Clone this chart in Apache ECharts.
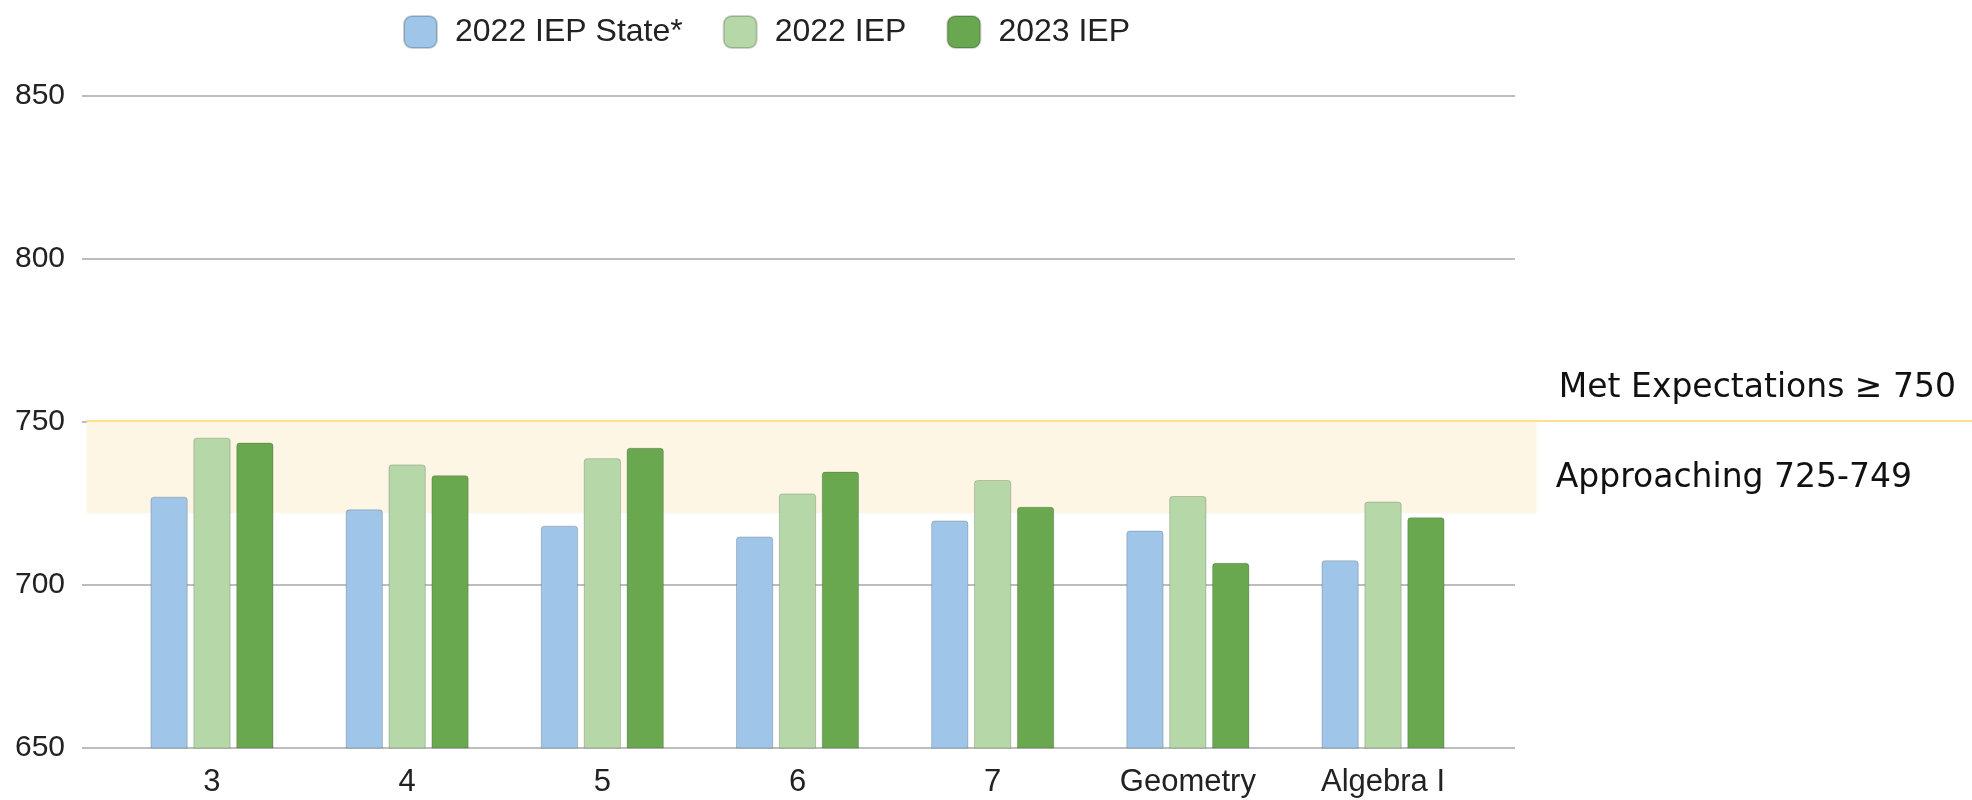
<!DOCTYPE html>
<html>
<head>
<meta charset="utf-8">
<style>
    html, body{ margin: 0; padding: 0; background: #fff;}
    #chart{ width: 1972px; height: 800px;}
</style>
<script src="https://cdn.jsdelivr.net/npm/echarts@6/dist/echarts.min.js"></script>
</head>
<body>
<div id="chart"></div>
<script>
    // data
    var categories = ['3', '4', '5', '6', '7', 'Geometry', 'Algebra I'];
    var seriesNames = ['2022 IEP State*', '2022 IEP', '2023 IEP'];
    var state2022 = [727.1, 723.2, 718.2, 714.9, 719.8, 716.7, 707.6];
    var iep2022 = [745.2, 737.0, 738.9, 728.1, 732.2, 727.3, 725.6];
    var iep2023 = [743.7, 733.7, 742.1, 734.8, 724.0, 706.8, 720.8];

    var yMin = 650, yMax = 850, yStep = 50;
    var metLevel = 750;
    var bandLow = 722;
    var metText = 'Met Expectations \u2265 750';
    var approachText = 'Approaching 725-749';

    var colors = ['#9FC5E8', '#B6D7A8', '#6AA84F'];
    var font = '"Liberation Sans", Arial, sans-serif';
    var noteFont = '"DejaVu Sans", sans-serif';

    var chart = echarts.init(document.getElementById('chart'));

    function hiddenY(i){
        return { gridIndex: i, type: 'value', min: yMin, max: yMax, interval: yStep, show: false };
    }
    function hiddenX(i){
        return { gridIndex: i, type: 'value', min: 0, max: 1, show: false };
    }
    function barSeries(name, data, color){
        return {
            name: name,
            type: 'bar',
            xAxisIndex: 1,
            yAxisIndex: 1,
            data: data,
            barWidth: 37.3,
            barGap: '15%',
            itemStyle: { color: color, borderColor: 'rgba(0,0,0,0.18)', borderWidth: 1, borderRadius: [3, 3, 0, 0] }
        };
    }

    chart.setOption({
        animation: false,
        legend: {
            data: seriesNames,
            left: 398,
            top: 10,
            icon: 'roundRect',
            itemWidth: 33,
            itemHeight: 32,
            itemGap: 40,
            textStyle: { fontSize: 32, color: '#222', fontFamily: font, padding: [0, 0, 0, 13] }
        },
        grid: [
            { left: 82, right: 457, top: 96, bottom: 52 },       // gridlines + y labels
            { left: 114.4, right: 491.4, top: 96, bottom: 52 },  // bars
            { left: 86.7, right: 435.3, top: 96, bottom: 52 },   // approaching band
            { left: 86.7, right: 0, top: 94.5, bottom: 53.5 }    // met line
        ],
        xAxis: [
            hiddenX(0),
            {
                gridIndex: 1,
                type: 'category',
                data: categories,
                axisLine: { show: false },
                axisTick: { show: false },
                axisLabel: { fontSize: 31, color: '#222', fontFamily: font, margin: 19 }
            },
            hiddenX(2),
            hiddenX(3)
        ],
        yAxis: [
            {
                gridIndex: 0,
                type: 'value',
                min: yMin,
                max: yMax,
                interval: yStep,
                axisLine: { show: false },
                axisTick: { show: false },
                axisLabel: { fontSize: 30, color: '#222', fontFamily: font, margin: 17 },
                splitLine: { lineStyle: { color: '#bdbdbd', width: 2 } }
            },
            hiddenY(1),
            hiddenY(2),
            hiddenY(3)
        ],
        series: [
            barSeries(seriesNames[0], state2022, colors[0]),
            barSeries(seriesNames[1], iep2022, colors[1]),
            barSeries(seriesNames[2], iep2023, colors[2]),
            {
                type: 'line',
                xAxisIndex: 2,
                yAxisIndex: 2,
                data: [],
                z: -1,
                silent: true,
                markArea: {
                    silent: true,
                    itemStyle: { color: '#FEF6E5' },
                    label: {
                        show: true,
                        position: 'right',
                        distance: 19,
                        offset: [0, 11],
                        fontSize: 33,
                        color: '#111',
                        fontFamily: noteFont
                    },
                    data: [[{ yAxis: bandLow, name: approachText }, { yAxis: metLevel }]]
                }
            },
            {
                type: 'line',
                xAxisIndex: 3,
                yAxisIndex: 3,
                data: [],
                silent: true,
                markLine: {
                    silent: true,
                    symbol: ['none', 'none'],
                    lineStyle: { color: '#FCE08A', width: 2, type: 'solid' },
                    label: {
                        show: true,
                        position: 'insideEndTop',
                        distance: [16, 16],
                        formatter: metText,
                        fontSize: 33,
                        color: '#111',
                        fontFamily: noteFont
                    },
                    data: [{ yAxis: metLevel }]
                }
            }
        ]
    });
</script>
</body>
</html>
